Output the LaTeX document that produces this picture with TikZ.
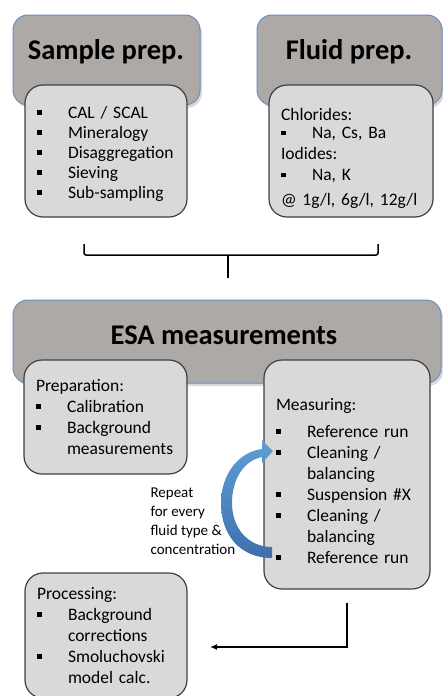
\documentclass[tikz,border=0pt]{standalone}
\usepackage{fontspec}
\setmainfont{Carlito}
\usetikzlibrary{arrows.meta,shadows}

\definecolor{hdrfill}{RGB}{173,169,166}
\definecolor{hdrline}{RGB}{108,142,191}
\definecolor{listfill}{RGB}{217,217,217}
\definecolor{listline}{RGB}{64,64,64}
\definecolor{arrowhi}{RGB}{95,158,214}
\definecolor{arrowlo}{RGB}{62,112,172}

\newcommand\blt{\makebox[31pt][l]{\raisebox{3.5pt}{\rule{4.5pt}{4.5pt}}}}
\newcommand\ind{\hspace*{31pt}}
\newcommand\lift[1]{\rule{0pt}{#1}}

\tikzset{
  hdrbox/.style={draw=hdrline, line width=1pt, fill=hdrfill, rounded corners=15pt,
    drop shadow={opacity=.3, shadow xshift=2pt, shadow yshift=-3pt}},
  title/.style={font=\fontsize{28.5}{32}\selectfont\bfseries},
  listbox/.style={draw=listline, line width=1.2pt, fill=listfill, rounded corners=18pt,
    inner xsep=12pt, align=left, font=\fontsize{17.5}{21}\selectfont},
  note/.style={align=left, anchor=west, font=\fontsize{15}{19}\selectfont},
  brace/.style={line width=1.5pt, rounded corners=2pt},
  flow/.style={-{Latex[length=7pt,width=6pt]}, line width=1.5pt}
}

\begin{document}
\begin{tikzpicture}[x=1pt, y=-1pt]
  \useasboundingbox (0,0) rectangle (443,696);

  \node[hdrbox, minimum width=187, minimum height=90] (sampleHdr) at (106.5,60) {};
  \node[title] (sampleTtl) at (106,52) {Sample prep.};
  \node[hdrbox, minimum width=185, minimum height=90] (fluidHdr) at (349.5,60) {};
  \node[title] (fluidTtl) at (349,52) {Fluid prep.};

  \node[listbox, text width=138, minimum height=132, font=\fontsize{17.5}{20}\selectfont] (sampleList) at (106,151)
    {\lift{18pt}\blt CAL / SCAL\\ \blt Mineralogy\\ \blt Disaggregation\\ \blt Sieving\\ \blt Sub-sampling};
  \node[listbox, text width=140, minimum height=132] (fluidList) at (351,151)
    {\lift{28pt}Chlorides:\\[-3pt] \blt Na, Cs, Ba\\ Iodides:\\ \blt Na, K\\[4pt] @ 1g/l, 6g/l, 12g/l};

  \coordinate (braceL) at (84,244);
  \coordinate (braceM) at (228,255);
  \coordinate (braceR) at (378,244);
  \coordinate (braceS) at (228,278);
  \draw[brace] (braceL) |- (braceM) -| (braceR);
  \draw[brace] (braceM) -- (braceS);

  \node[hdrbox, minimum width=428, minimum height=83] (esaHdr) at (227,341.5) {};
  \node[title] (esaTtl) at (224,335.5) {ESA measurements};

  \node[listbox, text width=139, minimum height=114] (prep) at (105.5,417)
    {Preparation:\\ \blt Calibration\\ \blt Background\\ \ind measurements};
  \node[listbox, text width=142, minimum height=229] (meas) at (347,474.5)
    {\lift{25pt}Measuring:\\[6pt] \blt Reference run\\ \blt Cleaning /\\ \ind balancing\\ \blt Suspension \#X\\
     \blt Cleaning /\\ \ind balancing\\ \blt Reference run};
  \node[listbox, text width=138, minimum height=125] (proc) at (106,635.5)
    {Processing:\\ \blt Background\\ \ind corrections\\ \blt Smoluchovski\\ \ind model calc.};

  \node[note] (repeat) at (147,521) {Repeat\\ for every\\ fluid type \&\\ concentration};

  \shade[top color=arrowhi, bottom color=arrowlo]
    (272,547) -- (272,558) .. controls (240,558) and (221,535) .. (221,503)
    .. controls (221,475) and (238,452) .. (262,449) -- (262,440) -- (273,451)
    -- (262,463) -- (262,457) .. controls (243,461) and (232,480) .. (232,503)
    .. controls (232,528) and (248,547) .. (272,547) -- cycle;

  \coordinate (measOut) at ([yshift=-13pt]meas.south);
  \coordinate (procIn) at (210,647);
  \draw[flow] (measOut) |- (procIn);
\end{tikzpicture}
\end{document}
